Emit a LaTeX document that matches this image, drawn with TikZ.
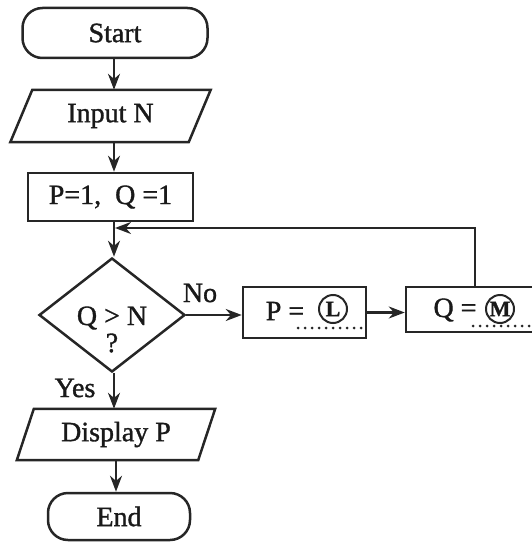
\documentclass[tikz,border=0pt]{standalone}
\usepackage{fontspec}
\setmainfont{Liberation Serif}
\newfontfamily\scanfont{Liberation Serif}[BoldFont={Liberation Serif},BoldFeatures={FakeBold=1.2}]
\newfontfamily\scanbold{Liberation Serif}[BoldFeatures={FakeBold=1.0}]
\usetikzlibrary{shapes.geometric,arrows.meta}
\begin{document}
\begin{tikzpicture}[x=1pt,y=-1pt,
  ln/.style={line width=2.5pt, draw=black!85},
  arr/.style={line width=2.5pt, draw=black!85, -{Stealth[length=16pt,width=12pt]}},
  txt/.style={font=\fontsize{28}{30}\scanfont\bfseries, inner sep=0pt, text=black!90},
  term/.style={txt, ln, rectangle, rounded corners=20pt},
  boxnode/.style={txt, ln, rectangle},
  paranode/.style={txt, rectangle},
  dia/.style={ln, diamond, inner sep=0pt},
  circ/.style={circle, draw=black!85, line width=2pt, inner sep=0pt, minimum size=28pt,
    font=\fontsize{22}{22}\scanbold\bfseries, text=black!90},
  dots/.style={line width=3pt, draw=black!85, dash pattern=on 0pt off 7pt, line cap=round}
]
\clip (0,0) rectangle (532,543);
\useasboundingbox (0,0) rectangle (532,543);
\coordinate (sp) at (114,0);

\node[term, minimum width=185pt, minimum height=50pt] (start) at (115,33) {Start};

\node[paranode, minimum width=178pt, minimum height=52pt] (in) at (110.5,116) {Input N};
\draw[ln] ([xshift=11pt]in.north west) -- ([xshift=11pt]in.north east)
  -- ([xshift=-11pt]in.south east) -- ([xshift=-11pt]in.south west) -- cycle;

\node[boxnode, minimum width=165pt, minimum height=48pt] (init) at (110.5,197) {P=1,\enspace Q =1};

\node[dia, minimum width=146pt, minimum height=114pt] (dec) at (112,315) {};
\node[txt] (dectext) at (112,318) {Q > N};
\node[txt] (decq) at (112,343) {?};

\node[txt] (no) at (200,293) {No};
\node[txt] (yes) at (75,388) {Yes};

\node[boxnode, minimum width=123pt, minimum height=51pt] (pbox) at (304.5,312.5) {};
\node[txt] (peq) at (285,311) {P =};
\node[circ] (lc) at (333,309) {L};
\coordinate (pd1) at (298,328);
\coordinate (pd2) at (362,328);
\draw[dots] (pd1) -- (pd2);

\node[boxnode, minimum width=160pt, minimum height=45pt] (qbox) at (486,309.5) {};
\node[txt] (qeq) at (455,310) {Q =};
\node[circ] (mc) at (500,309) {M};
\coordinate (qd1) at (473,326);
\coordinate (qd2) at (534,326);
\draw[dots] (qd1) -- (qd2);

\node[paranode, minimum width=181pt, minimum height=51pt] (disp) at (116,434.5) {Display P};
\draw[ln] ([xshift=8.5pt]disp.north west) -- ([xshift=8.5pt]disp.north east)
  -- ([xshift=-8.5pt]disp.south east) -- ([xshift=-8.5pt]disp.south west) -- cycle;

\node[term, minimum width=142pt, minimum height=47pt] (end) at (119,516.5) {End};

\draw[arr] (sp |- start.south) -- (sp |- in.north);
\draw[arr] (sp |- in.south) -- (sp |- init.north);
\draw[arr] (sp |- init.south) -- (sp |- dec.north);
\draw[arr] (dec.east) -- (dec.east -| pbox.west);
\draw[arr] (pbox.east) -- (pbox.east -| qbox.west);
\coordinate (lp) at (475,228);
\coordinate (mg) at (115,228);
\draw[arr] (lp |- qbox.north) -- (lp) -- (mg);
\draw[arr] (sp |- dec.south) -- (sp |- disp.north);
\draw[arr] ([xshift=2pt]sp |- disp.south) -- ([xshift=2pt]sp |- end.north);
\end{tikzpicture}
\end{document}
